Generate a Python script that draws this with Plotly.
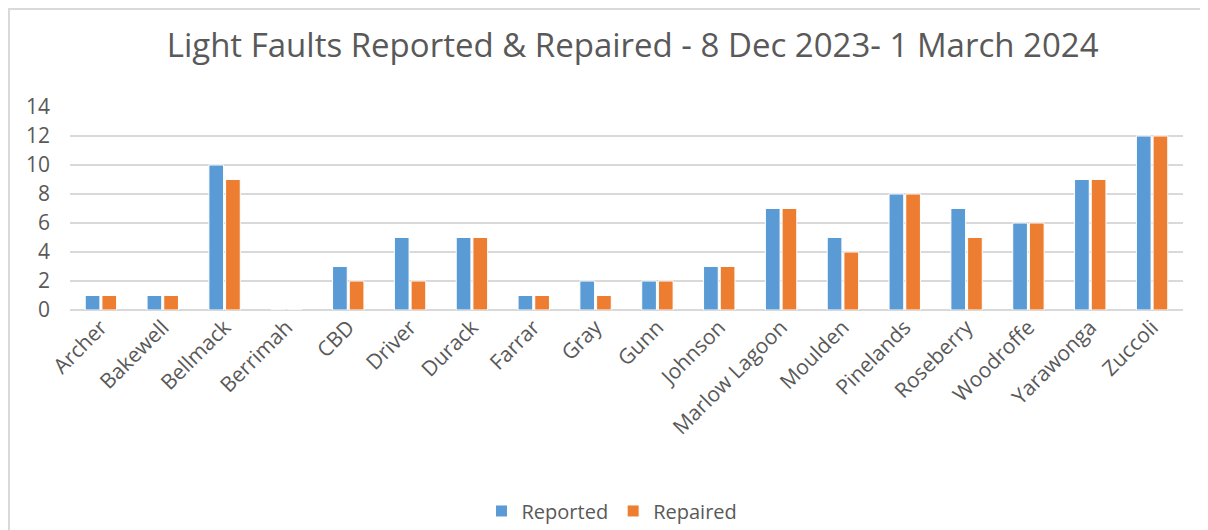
import plotly.graph_objects as go

suburbs = ["Archer", "Bakewell", "Bellmack", "Berrimah", "CBD", "Driver", "Durack",
           "Farrar", "Gray", "Gunn", "Johnson", "Marlow Lagoon", "Moulden",
           "Pinelands", "Roseberry", "Woodroffe", "Yarawonga", "Zuccoli"]
reported = [1, 1, 10, 0, 3, 5, 5, 1, 2, 2, 3, 7, 5, 8, 7, 6, 9, 12]
repaired = [1, 1, 9, 0, 2, 2, 5, 1, 1, 2, 3, 7, 4, 8, 5, 6, 9, 12]

grey = "#595959"
font = "Open Sans"

fig = go.Figure()
fig.add_trace(go.Bar(x=suburbs, y=reported, name="Reported",
                     marker=dict(color="#5B9BD5", line=dict(color="white", width=1))))
fig.add_trace(go.Bar(x=suburbs, y=repaired, name="Repaired",
                     marker=dict(color="#ED7D31", line=dict(color="white", width=1))))

# page body has an 8px margin, so the figure is 1200x522 and sits at (8, 8)
# plot area on the page: x 70..1183, y 107..310
W, H = 1200, 522
L, T, R, B = 62, 99, 25, 220
ph = H - T - B
pw = W - L - R

fig.update_layout(
    width=W, height=H,
    margin=dict(l=L, r=R, t=T, b=B, autoexpand=False),
    paper_bgcolor="white", plot_bgcolor="white",
    barmode="group", bargap=0.46, bargroupgap=0.12,
    font=dict(family=font, color=grey, size=20),
    title=dict(text="Light Faults Reported & Repaired - 8 Dec 2023- 1 March 2024",
               x=0.5205, xanchor="center", y=1 - 37 / H, yanchor="middle",
               font=dict(size=33, color=grey)),
    legend=dict(orientation="h", x=0.487, xanchor="center", y=-0.99, yanchor="middle",
                font=dict(size=20, color=grey), itemwidth=30, traceorder="normal"),
    showlegend=True,
)
fig.update_xaxes(tickangle=-45, showgrid=False, showline=False, ticks="",
                 tickfont=dict(size=21, color=grey))
fig.update_yaxes(range=[0, 14], dtick=2, showgrid=True, gridcolor="#d9d9d9", gridwidth=2,
                 zeroline=True, zerolinecolor="#d9d9d9", zerolinewidth=2,
                 ticks="", ticklabelstandoff=19, tickfont=dict(size=21, color=grey))

# outer chart frame (runs off the right and bottom edge like the screenshot)
fig.add_shape(type="rect", xref="paper", yref="paper",
              x0=(1 - L) / pw, x1=(W + 20 - L) / pw,
              y0=(H - B - H - 20) / ph, y1=(H - B - 1) / ph,
              line=dict(color="#d9d9d9", width=2), fillcolor="rgba(0,0,0,0)", layer="below")

fig.write_html("out.html")
